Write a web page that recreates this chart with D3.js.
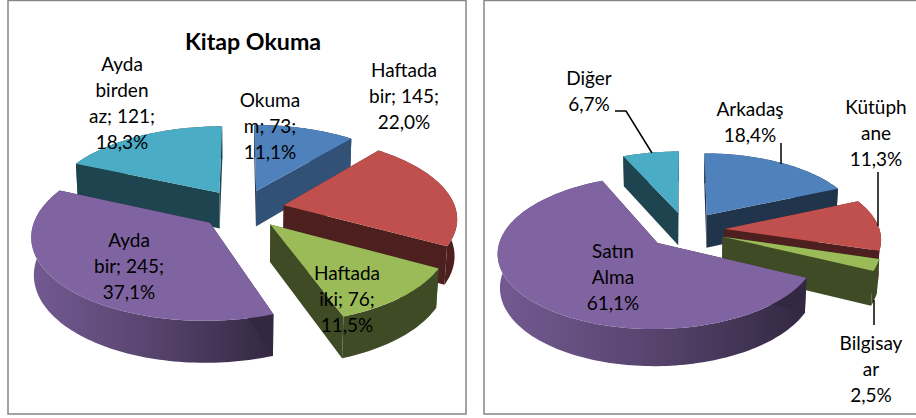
<!DOCTYPE html>
<html><head><meta charset="utf-8">
<script src="https://cdnjs.cloudflare.com/ajax/libs/d3/7.8.5/d3.min.js"></script>
<style>html,body{margin:0;padding:0;background:#fff}svg{display:block}text{font-family:Lato,"Open Sans",sans-serif;fill:#000}</style>
</head><body><svg id="c" width="916" height="418"></svg>
<script>
// ---- data ----
const readingCategories = ["Okumam", "Haftada bir", "Haftada iki", "Ayda bir", "Ayda birden az"];
const readingValues = [73, 145, 76, 245, 121];
const readingLabels = [["Okuma","m; 73;","11,1%"],["Haftada","bir; 145;","22,0%"],["Haftada","iki; 76;","11,5%"],["Ayda","bir; 245;","37,1%"],["Ayda","birden","az; 121;","18,3%"]];
const sourceCategories = ["Arkadaş", "Kütüphane", "Bilgisayar", "Satın Alma", "Diğer"];
const sourceValues = [18.4, 11.3, 2.5, 61.1, 6.7];
const sourceLabels = [["Arkadaş","18,4%"],["Kütüph","ane","11,3%"],["Bilgisay","ar","2,5%"],["Satın","Alma","61,1%"],["Diğer","6,7%"]];
const sliceColors = ["#4F81BD", "#C0504D", "#9BBB59", "#8064A2", "#4BACC6"];

// ---- layout ----
const readingLabelAt = [[270,107],[404,77],[347,280],[129,247],[122,71]];
const sourceLabelAt = [[750,116],[876,114],[871,350],[613,258],[589,85]];
const sourceLeaders = [[[781,143],[781,164]],[[878,172],[878,226]],[[874,300],[874,325]],null,[[615,111],[626,111],[652,153]]];
const charts = [
  {id:"a", values:readingValues, labels:readingLabels, labelAt:readingLabelAt, leaders:[],
   cx:242, cy:209, rx:172, ry:80, h:37, q:0.14, s:0.012, e:0.248},
  {id:"b", values:sourceValues, labels:sourceLabels, labelAt:sourceLabelAt, leaders:sourceLeaders,
   cx:686, cy:230, rx:155, ry:72.5, h:33.5, q:0.12, s:0.012, e:0.25}
];

const svg = d3.select("#c");
const defs = svg.append("defs");
svg.append("rect").attr("x",8).attr("y",0.5).attr("width",458).attr("height",413.5).attr("fill","#fff").attr("stroke","#868686").attr("stroke-width",1.5);
svg.append("rect").attr("x",484).attr("y",0.5).attr("width",440).attr("height",413.5).attr("fill","#fff").attr("stroke","#868686").attr("stroke-width",1.5);

const dark = (c,k)=>{const r=d3.rgb(c);return d3.rgb(r.r*k,r.g*k,r.b*k).formatHex();};
const line = d3.line();

charts.forEach(ch=>{
  const pie = d3.pie().sort(null).value(d=>d);
  const arcs = pie(ch.values).map((d,i)=>({...d,i}));
  const maxV = d3.max(ch.values);
  const proj=(X,Y,Z)=>{const w=1+ch.q*Y+ch.s*Z;return [ch.cx+ch.rx*X/w, ch.cy-ch.ry*Y/w+ch.h*Z/w];};
  arcs.forEach(d=>{const m=(d.startAngle+d.endAngle)/2;d.ox=ch.e*Math.sin(m);d.oy=ch.e*Math.cos(m);});
  const order=arcs.slice().sort((a,b)=>b.oy-a.oy);
  const g=svg.append("g");
  order.forEach(d=>{
    const color=sliceColors[d.i];
    const n=Math.max(8,Math.ceil((d.endAngle-d.startAngle)*40));
    const angs=d3.range(n+1).map(k=>d.startAngle+(d.endAngle-d.startAngle)*k/n);
    const pt=(a,Z)=>proj(d.ox+Math.sin(a),d.oy+Math.cos(a),Z);
    const apex=Z=>proj(d.ox,d.oy,Z);
    const wall=angs.map(a=>pt(a,0)).concat(angs.slice().reverse().map(a=>pt(a,1)));
    const cut=a=>[apex(0),pt(a,0),pt(a,1),apex(1)];
    const shade=a=>a<Math.PI/4?0.63:0.4;
    let wallFill=dark(color,0.4);
    if(d.value===maxV){
      const gid="wall"+ch.id;
      const gr=defs.append("linearGradient").attr("id",gid);
      gr.append("stop").attr("offset",0).attr("stop-color",dark(color,0.9));
      gr.append("stop").attr("offset",0.5).attr("stop-color",dark(color,0.68));
      gr.append("stop").attr("offset",1).attr("stop-color",dark(color,0.4));
      wallFill=`url(#${gid})`;
    }
    g.append("path").attr("d",line(wall)+"Z").attr("fill",wallFill);
    g.append("path").attr("d",line(cut(d.startAngle))+"Z").attr("fill",dark(color,0.4));
    g.append("path").attr("d",line(cut(d.endAngle))+"Z").attr("fill",dark(color,shade(d.endAngle)));
    const top=[apex(0)].concat(angs.map(a=>pt(a,0)));
    g.append("path").attr("d",line(top)+"Z").attr("fill",color);
  });
  ch.leaders.forEach(l=>{ if(l) svg.append("path").attr("d",line(l)).attr("fill","none").attr("stroke","#000").attr("stroke-width",1.5); });
  ch.labels.forEach((lines,i)=>{
    const [x,y]=ch.labelAt[i];
    const t=svg.append("text").attr("text-anchor","middle").attr("font-size",19);
    lines.forEach((s,k)=>t.append("tspan").attr("x",x).attr("y",y+k*26).text(s));
  });
});
svg.append("text").attr("x",253).attr("y",50).attr("text-anchor","middle").attr("font-size",23.2).attr("font-weight","700").text("Kitap Okuma");
</script></body></html>
